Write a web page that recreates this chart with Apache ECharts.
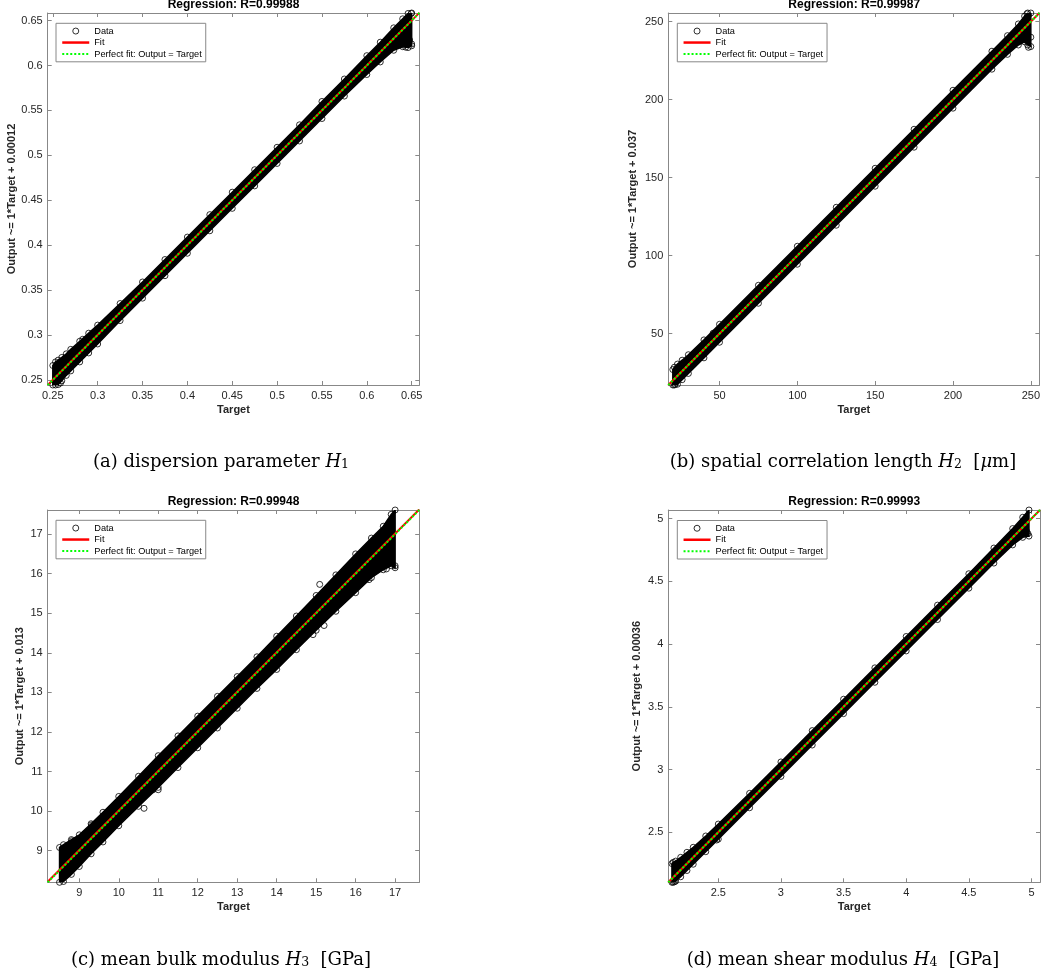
<!DOCTYPE html>
<html><head><meta charset="utf-8">
<script src="https://cdn.jsdelivr.net/npm/echarts@6/dist/echarts.min.js"></script>
<style>html,body{margin:0;padding:0;background:#fff}#c{width:1043px;height:976px}</style>
</head><body><div id="c"></div><script>
// ---------- Panel (a) ----------
const aTitle = 'Regression: R=0.99988';
const aYName = 'Output ~= 1*Target + 0.00012';
const aRange = [0.2443, 0.6585];
const aFit = [[0.2443, 0.24442], [0.6585, 0.65862]];
const aPerfect = [[0.2443, 0.2443], [0.6585, 0.6585]];
const aBandT  = [0.250, 0.253, 0.256, 0.260, 0.265, 0.270, 0.280, 0.290, 0.300, 0.325, 0.350, 0.375, 0.400, 0.425, 0.450, 0.475, 0.500, 0.525, 0.550, 0.575, 0.600, 0.615, 0.630, 0.640, 0.646, 0.650];
const aBandHi = [0.266, 0.270, 0.272, 0.275, 0.279, 0.284, 0.293, 0.302, 0.311, 0.335, 0.359, 0.384, 0.409, 0.434, 0.459, 0.484, 0.509, 0.534, 0.560, 0.585, 0.611, 0.626, 0.642, 0.652, 0.658, 0.6585];
const aBandLo = [0.2443, 0.2443, 0.2448, 0.249, 0.255, 0.260, 0.270, 0.280, 0.290, 0.316, 0.341, 0.366, 0.391, 0.416, 0.441, 0.466, 0.491, 0.516, 0.541, 0.566, 0.590, 0.604, 0.617, 0.621, 0.620, 0.622];
const aOutT = [0.2833, 0.6433, 0.6477, 0.2585, 0.6495, 0.6500];
const aOutO = [0.2952, 0.6204, 0.6285, 0.2465, 0.6580, 0.6240];

// ---------- Panel (b) ----------
const bTitle = 'Regression: R=0.99987';
const bYName = 'Output ~= 1*Target + 0.037';
const bRange = [17.1, 255.5];
const bFit = [[17.1, 17.137], [255.5, 255.537]];
const bPerfect = [[17.1, 17.1], [255.5, 255.5]];
const bBandT  = [20, 21, 23, 26, 30, 40, 50, 75, 100, 125, 150, 175, 200, 225, 235, 242, 246, 248, 250];
const bBandHi = [27, 28.5, 30.5, 33, 36.5, 46, 56, 81, 106, 131, 156, 181, 206, 231, 241, 248.5, 253.5, 255.5, 255.5];
const bBandLo = [17.1, 17.1, 17.6, 20.5, 24.5, 34.5, 44.5, 69.5, 94.5, 119.5, 144.5, 169.5, 194.5, 219.5, 229, 235, 237, 235, 234];
const bOutT = [45.9, 248.5, 21.5, 250, 247.5];
const bOutO = [50.3, 233.5, 17.5, 240, 255];

// ---------- Panel (c) ----------
const cTitle = 'Regression: R=0.99948';
const cYName = 'Output ~= 1*Target + 0.013';
const cRange = [8.2, 17.61];
const cFit = [[8.2, 8.213], [17.61, 17.623]];
const cPerfect = [[8.2, 8.2], [17.61, 17.61]];
const cBandT  = [8.5, 8.6, 8.8, 9.0, 9.3, 9.6, 10, 10.5, 11, 11.5, 12, 12.5, 13, 13.5, 14, 14.5, 15, 15.5, 16, 16.4, 16.7, 16.9, 17.0];
const cBandHi = [9.08, 9.15, 9.28, 9.4, 9.68, 9.97, 10.37, 10.88, 11.4, 11.9, 12.4, 12.9, 13.4, 13.9, 14.42, 14.93, 15.45, 15.97, 16.5, 16.9, 17.2, 17.5, 17.61];
const cBandLo = [8.2, 8.22, 8.4, 8.6, 8.92, 9.22, 9.63, 10.12, 10.6, 11.1, 11.6, 12.1, 12.6, 13.1, 13.58, 14.08, 14.57, 15.05, 15.52, 15.9, 16.1, 16.2, 16.15];
const cOutT = [8.81, 9.31, 10.64, 10.87, 11.0, 15.09, 15.68, 15.2, 14.92, 16.34, 16.93, 16.78, 8.55, 17.0];
const cOutO = [9.25, 9.65, 10.07, 10.54, 10.54, 15.73, 15.36, 14.69, 14.46, 15.85, 17.64, 16.12, 8.18, 16.2];

// ---------- Panel (d) ----------
const dTitle = 'Regression: R=0.99993';
const dYName = 'Output ~= 1*Target + 0.00036';
const dRange = [2.101, 5.068];
const dFit = [[2.101, 2.10136], [5.068, 5.06836]];
const dPerfect = [[2.101, 2.101], [5.068, 5.068]];
const dBandT  = [2.13, 2.14, 2.16, 2.2, 2.25, 2.3, 2.4, 2.5, 2.75, 3.0, 3.25, 3.5, 3.75, 4.0, 4.25, 4.5, 4.7, 4.85, 4.93, 4.98];
const dBandHi = [2.25, 2.26, 2.27, 2.3, 2.34, 2.38, 2.47, 2.565, 2.81, 3.06, 3.31, 3.56, 3.81, 4.06, 4.31, 4.56, 4.765, 4.92, 5.01, 5.068];
const dBandLo = [2.101, 2.101, 2.11, 2.145, 2.195, 2.245, 2.345, 2.445, 2.695, 2.945, 3.195, 3.445, 3.695, 3.945, 4.195, 4.445, 4.645, 4.79, 4.85, 4.86];
const dOutT = [2.487, 4.972, 4.96, 2.15];
const dOutO = [2.438, 4.88, 4.9, 2.105];

// tick steps per panel
const tickSteps = [0.05, 50, 1, 0.5];
const splitNums = [8, 5, 9, 6];

// captions (rich text parts)
const captions = [
  '{n|(a) dispersion parameter }{i|H}{s|1}',
  '{n|(b) spatial correlation length }{i|H}{s|2}{n|  [}{i|μ}{n|m]}',
  '{n|(c) mean bulk modulus }{i|H}{s|3}{n|  [GPa]}',
  '{n|(d) mean shear modulus }{i|H}{s|4}{n|  [GPa]}'
];

const legendNames = ['Data', 'Fit', 'Perfect fit: Output = Target'];

const panels = [
  {title: aTitle, yName: aYName, range: aRange, fit: aFit, perfect: aPerfect, T: aBandT, H: aBandHi, L: aBandLo, oT: aOutT, oO: aOutO},
  {title: bTitle, yName: bYName, range: bRange, fit: bFit, perfect: bPerfect, T: bBandT, H: bBandHi, L: bBandLo, oT: bOutT, oO: bOutO},
  {title: cTitle, yName: cYName, range: cRange, fit: cFit, perfect: cPerfect, T: cBandT, H: cBandHi, L: cBandLo, oT: cOutT, oO: cOutO},
  {title: dTitle, yName: dYName, range: dRange, fit: dFit, perfect: dPerfect, T: dBandT, H: dBandHi, L: dBandLo, oT: dOutT, oO: dOutO}
];

const layout = [
  {left: 47.7, top: 13, w: 371.6, h: 372, lg: [56, 23.3], tx: 233.5, ty: 5, yGap: 28, cx: 221, cy: 460},
  {left: 668.3, top: 13, w: 371.7, h: 372, lg: [677.3, 23.3], tx: 854.2, ty: 5, yGap: 30, cx: 843, cy: 460},
  {left: 47.7, top: 510, w: 371.5, h: 372.3, lg: [56, 520.3], tx: 233.5, ty: 502, yGap: 22, cx: 221, cy: 958},
  {left: 668.3, top: 510, w: 371.7, h: 372.3, lg: [677.3, 520.5], tx: 854.2, ty: 502, yGap: 26, cx: 843, cy: 958}
];

const FONT = 'Liberation Sans, Arial, Helvetica, sans-serif';
const AXC = '#888888';
const LBC = '#262626';

function labelFmt(step) {
  return function (v) {
    const r = v / step;
    if (Math.abs(r - Math.round(r)) > 1e-6) return '';
    return String(parseFloat(v.toFixed(4)));
  };
}

function makeAxis(k, kind, pos, showLabel) {
  const p = panels[k];
  const ax = {
    type: 'value', gridIndex: k, position: pos,
    min: p.range[0], max: p.range[1], splitNumber: splitNums[k],
    axisLine: {show: true, onZero: false, lineStyle: {color: AXC, width: 1}},
    axisTick: {show: true, inside: true, length: 4, lineStyle: {color: AXC, width: 1}},
    axisLabel: {show: showLabel, margin: 5, fontSize: 11, color: LBC, fontFamily: FONT, formatter: labelFmt(tickSteps[k])},
    splitLine: {show: false}
  };
  if (showLabel) {
    ax.name = kind === 'x' ? 'Target' : p.yName;
    ax.nameLocation = 'middle';
    ax.nameGap = kind === 'x' ? 19 : layout[k].yGap;
    ax.nameTextStyle = {fontWeight: 'bold', fontSize: 11, color: LBC, fontFamily: FONT};
  }
  return ax;
}

const grids = [], xAxes = [], yAxes = [], series = [], legends = [], graphics = [];

panels.forEach((p, k) => {
  const L = layout[k];
  grids.push({left: L.left, top: L.top, width: L.w, height: L.h, containLabel: false});
  xAxes.push(makeAxis(k, 'x', 'bottom', true));
  xAxes.push(makeAxis(k, 'x', 'top', false));
  yAxes.push(makeAxis(k, 'y', 'left', true));
  yAxes.push(makeAxis(k, 'y', 'right', false));

  const T = p.T, H = p.H, Lo = p.L;
  series.push({
    type: 'custom', name: 'band' + k, xAxisIndex: 2 * k, yAxisIndex: 2 * k,
    coordinateSystem: 'cartesian2d', clip: true, silent: true, z: 1,
    data: T.map((t, i) => [t, H[i], Lo[i]]),
    renderItem: function (params, api) {
      if (params.dataIndex !== 0) return null;
      const pts = [];
      for (let i = 0; i < T.length; i++) pts.push(api.coord([T[i], H[i]]));
      for (let i = T.length - 1; i >= 0; i--) pts.push(api.coord([T[i], Lo[i]]));
      return {type: 'polygon', shape: {points: pts}, style: {fill: '#000', stroke: '#000', lineWidth: 1.5}};
    }
  });
  const pts = [];
  T.forEach((t, i) => pts.push([t, H[i]]));
  T.forEach((t, i) => pts.push([t, Lo[i]]));
  p.oT.forEach((t, i) => pts.push([t, p.oO[i]]));
  series.push({
    type: 'scatter', name: legendNames[0], xAxisIndex: 2 * k, yAxisIndex: 2 * k, z: 2, clip: true,
    symbol: 'circle', symbolSize: 6, data: pts,
    itemStyle: {color: 'rgba(255,255,255,0)', borderColor: '#000', borderWidth: 1}
  });
  series.push({
    type: 'line', name: legendNames[1], xAxisIndex: 2 * k, yAxisIndex: 2 * k, z: 3, clip: true,
    symbol: 'none', showSymbol: false, data: p.fit,
    itemStyle: {color: '#ff0000'}, lineStyle: {color: '#ff0000', width: 2}
  });
  series.push({
    type: 'line', name: legendNames[2], xAxisIndex: 2 * k, yAxisIndex: 2 * k, z: 4, clip: true,
    symbol: 'none', showSymbol: false, data: p.perfect,
    itemStyle: {color: '#00ff00'}, lineStyle: {color: '#00ff00', width: 2, type: [2, 2]}
  });

  legends.push({
    left: L.lg[0], top: L.lg[1], orient: 'vertical', selectedMode: false,
    data: [
      {name: legendNames[0], itemStyle: {color: 'rgba(255,255,255,0)', borderColor: '#000', borderWidth: 1}},
      {name: legendNames[1], itemStyle: {opacity: 0, color: 'rgba(0,0,0,0)', borderWidth: 0}, lineStyle: {color: '#ff0000', width: 2.5, opacity: 1}},
      {name: legendNames[2], itemStyle: {opacity: 0, color: 'rgba(0,0,0,0)', borderWidth: 0}, lineStyle: {color: '#00ff00', width: 2, type: [2, 2], opacity: 1}}
    ],
    itemWidth: 27, itemHeight: 6, itemGap: 0, padding: [2, 4, 2, 5],
    borderColor: AXC, borderWidth: 1, backgroundColor: '#fff', borderRadius: 0,
    textStyle: {fontFamily: FONT, fontSize: 9.2, color: '#000', lineHeight: 11.5}
  });

  graphics.push({
    type: 'text', x: L.tx, y: L.ty, silent: true,
    style: {text: p.title, font: 'bold 12px ' + FONT, fill: '#000', textAlign: 'center', textVerticalAlign: 'middle'}
  });
  graphics.push({
    type: 'text', x: L.cx, y: L.cy, silent: true,
    style: {
      text: captions[k], textAlign: 'center', textVerticalAlign: 'middle', fill: '#000',
      rich: {
        n: {fontFamily: 'DejaVu Serif', fontSize: 18, lineHeight: 23, verticalAlign: 'bottom', fill: '#000'},
        i: {fontFamily: 'DejaVu Serif', fontStyle: 'italic', fontSize: 18, lineHeight: 23, verticalAlign: 'bottom', fill: '#000'},
        s: {fontFamily: 'DejaVu Serif', fontSize: 12.5, lineHeight: 13, verticalAlign: 'bottom', fill: '#000'}
      }
    }
  });
});

const chart = echarts.init(document.getElementById('c'), null, {renderer: 'canvas'});
chart.setOption({
  animation: false,
  backgroundColor: '#fff',
  grid: grids, xAxis: xAxes, yAxis: yAxes,
  legend: legends, series: series, graphic: graphics
});
</script></body></html>
